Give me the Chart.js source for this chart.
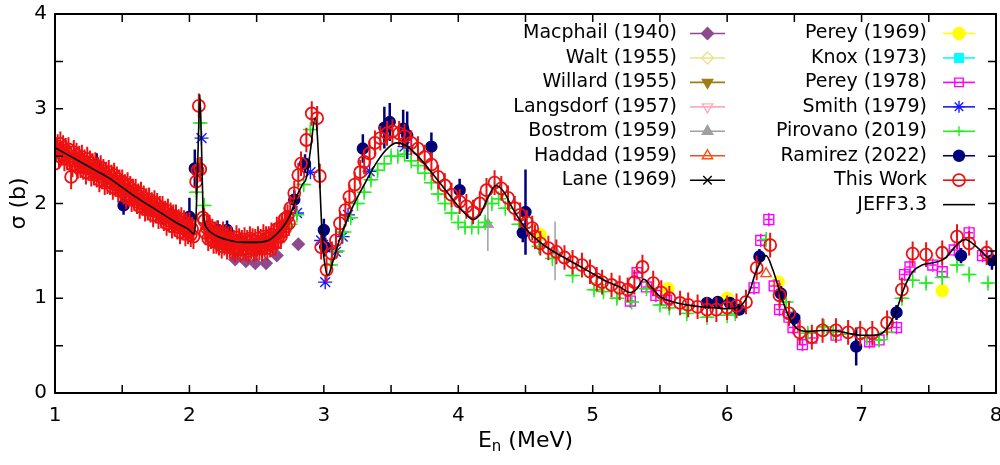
<!DOCTYPE html>
<html>
<head>
<meta charset="utf-8">
<script src="https://cdn.jsdelivr.net/npm/chart.js@4.4.1/dist/chart.umd.min.js"></script>
<style>
  html, body { margin: 0; padding: 0; background: #fff; }
</style>
</head>
<body>
<canvas id="c" width="1000" height="465"></canvas>
<script>
const FONT = "'DejaVu Sans', sans-serif";

// JEFF3.3 evaluated curve
let jeffX = [1.00, 1.10, 1.20, 1.30, 1.40, 1.50, 1.60, 1.70, 1.80, 1.90, 2.00, 2.03, 2.05, 2.065, 2.078, 2.09, 2.10, 2.11, 2.13,
  2.20, 2.30, 2.40, 2.50, 2.60, 2.65, 2.70, 2.75, 2.80, 2.84, 2.87, 2.90, 2.935, 2.95, 2.97, 2.99, 3.03, 3.07, 3.12,
  3.20, 3.30, 3.40, 3.48, 3.54, 3.60, 3.70, 3.80, 3.90, 4.00, 4.06, 4.11, 4.16, 4.22, 4.28, 4.34, 4.40, 4.50, 4.60,
  4.70, 4.80, 4.90, 5.00, 5.10, 5.20, 5.28, 5.33, 5.38, 5.43, 5.50, 5.60, 5.70, 5.80, 5.90, 6.00, 6.10, 6.16, 6.22,
  6.29, 6.34, 6.40, 6.46, 6.52, 6.60, 6.70, 6.80, 6.90, 7.00, 7.10, 7.17, 7.25, 7.32, 7.38, 7.45, 7.55, 7.62, 7.70,
  7.77, 7.85, 7.93, 8.00];
let jeffY = [2.59, 2.51, 2.43, 2.35, 2.27, 2.17, 2.07, 1.98, 1.89, 1.80, 1.72, 1.68, 1.90, 2.60, 3.15, 2.60, 2.00, 1.82, 1.74,
  1.66, 1.61, 1.59, 1.59, 1.62, 1.68, 1.76, 1.88, 2.08, 2.20, 2.27, 2.56, 2.90, 2.75, 2.20, 1.60, 1.245, 1.40, 1.63,
  1.92, 2.20, 2.45, 2.59, 2.64, 2.62, 2.50, 2.33, 2.15, 1.97, 1.88, 1.83, 1.88, 2.06, 2.19, 2.12, 1.96, 1.74, 1.60,
  1.50, 1.42, 1.34, 1.26, 1.18, 1.12, 1.06, 1.10, 1.20, 1.13, 1.02, 0.96, 0.93, 0.91, 0.90, 0.89, 0.92, 1.05, 1.30,
  1.45, 1.30, 1.03, 0.80, 0.68, 0.65, 0.66, 0.66, 0.63, 0.61, 0.61, 0.65, 0.84, 1.12, 1.28, 1.35, 1.38, 1.42, 1.55,
  1.62, 1.55, 1.44, 1.36];

// This Work
let workX = [1.00, 1.01, 1.02, 1.03, 1.04, 1.05, 1.06, 1.07, 1.08, 1.09,
  1.10, 1.11, 1.12, 1.13, 1.14, 1.15, 1.16, 1.17, 1.18, 1.19,
  1.20, 1.21, 1.22, 1.23, 1.24, 1.25, 1.26, 1.27, 1.28, 1.29,
  1.30, 1.31, 1.32, 1.33, 1.34, 1.35, 1.36, 1.37, 1.38, 1.39,
  1.40, 1.41, 1.42, 1.43, 1.44, 1.45, 1.46, 1.47, 1.48, 1.49,
  1.50, 1.51, 1.52, 1.53, 1.54, 1.55, 1.56, 1.57, 1.58, 1.59,
  1.60, 1.61, 1.62, 1.63, 1.64, 1.65, 1.66, 1.67, 1.68, 1.69,
  1.70, 1.71, 1.72, 1.73, 1.74, 1.75, 1.76, 1.77, 1.78, 1.79,
  1.80, 1.81, 1.82, 1.83, 1.84, 1.85, 1.86, 1.87, 1.88, 1.89,
  1.90, 1.91, 1.92, 1.93, 1.94, 1.95, 1.96, 1.97, 1.98, 1.99,
  2.00, 2.01, 2.02, 2.03, 2.05, 2.06, 2.07, 2.08, 2.10,
  2.11, 2.12, 2.13, 2.14, 2.15, 2.16, 2.17, 2.18, 2.19, 2.20,
  2.21, 2.22, 2.23, 2.24, 2.25, 2.26, 2.27, 2.28, 2.29, 2.30,
  2.31, 2.32, 2.33, 2.34, 2.35, 2.36, 2.37, 2.38, 2.39, 2.40,
  2.41, 2.42, 2.43, 2.44, 2.45, 2.46, 2.47, 2.48, 2.49, 2.50,
  2.51, 2.52, 2.53, 2.54, 2.55, 2.56, 2.57, 2.58, 2.59, 2.60,
  2.61, 2.62, 2.63, 2.64, 2.65, 2.66, 2.67, 2.68, 2.69, 2.70,
  2.71, 2.72, 2.73, 2.74, 2.75, 2.78, 2.81, 2.83, 2.87, 2.91, 2.95, 2.97,
  2.98, 3.02, 3.06, 3.09, 3.12, 3.16, 3.19, 3.23, 3.27, 3.30,
  3.34, 3.38, 3.42, 3.47, 3.51, 3.56, 3.60, 3.65, 3.70, 3.75,
  3.80, 3.85, 3.90, 3.95, 4.01, 4.06, 4.11, 4.16, 4.21, 4.27,
  4.32, 4.37, 4.42, 4.46, 4.51, 4.55, 4.57, 4.61, 4.67, 4.73,
  4.79, 4.85, 4.92, 4.98, 5.03, 5.07, 5.14, 5.20, 5.26, 5.31,
  5.37, 5.45, 5.51, 5.57, 5.65, 5.71, 5.78, 5.85, 5.92, 6.00,
  6.07, 6.14, 6.22, 6.32, 6.39, 6.46, 6.54, 6.63, 6.71, 6.81,
  6.90, 6.99, 7.08, 7.19, 7.30, 7.38, 7.48, 7.60, 7.71, 7.80, 7.93];
let workY = [2.42, 2.57, 2.60, 2.50, 2.63, 2.53, 2.59, 2.47, 2.56, 2.48,
  2.57, 2.46, 2.28, 2.41, 2.54, 2.45, 2.51, 2.39, 2.48, 2.40,
  2.49, 2.38, 2.44, 2.33, 2.47, 2.37, 2.43, 2.31, 2.40, 2.32,
  2.41, 2.30, 2.36, 2.25, 2.38, 2.28, 2.34, 2.22, 2.31, 2.23,
  2.33, 2.22, 2.28, 2.17, 2.30, 2.20, 2.26, 2.14, 2.23, 2.15,
  2.23, 2.12, 2.18, 2.07, 2.20, 2.10, 2.16, 2.04, 2.13, 2.05,
  2.13, 2.02, 2.08, 1.97, 2.10, 2.00, 2.06, 1.94, 2.03, 1.95,
  2.04, 1.93, 1.99, 1.88, 2.01, 1.92, 1.98, 1.86, 1.95, 1.87,
  1.95, 1.84, 1.90, 1.79, 1.92, 1.82, 1.88, 1.76, 1.86, 1.78,
  1.86, 1.75, 1.81, 1.70, 1.83, 1.74, 1.80, 1.68, 1.77, 1.70,
  1.78, 1.67, 1.73, 1.65, 2.23, 2.35, 3.03, 2.36, 1.85,
  1.82, 1.69, 1.74, 1.63, 1.75, 1.65, 1.71, 1.60, 1.68, 1.60,
  1.69, 1.58, 1.65, 1.55, 1.68, 1.58, 1.65, 1.54, 1.63, 1.55,
  1.63, 1.53, 1.59, 1.51, 1.64, 1.54, 1.61, 1.51, 1.59, 1.53,
  1.62, 1.52, 1.59, 1.50, 1.63, 1.54, 1.61, 1.51, 1.60, 1.53,
  1.63, 1.53, 1.60, 1.52, 1.65, 1.56, 1.63, 1.53, 1.63, 1.56,
  1.67, 1.58, 1.66, 1.58, 1.73, 1.65, 1.74, 1.65, 1.76, 1.71,
  1.84, 1.76, 1.86, 1.79, 1.95, 2.11, 2.30, 2.42, 2.67, 2.95, 2.90, 2.29,
  1.54, 1.30, 1.47, 1.61, 1.79, 1.93, 2.07, 2.20, 2.33, 2.44,
  2.53, 2.64, 2.69, 2.74, 2.76, 2.74, 2.71, 2.64, 2.58, 2.49,
  2.41, 2.28, 2.19, 2.09, 2.02, 1.97, 1.91, 2.00, 2.14, 2.22,
  2.16, 2.06, 1.95, 1.88, 1.80, 1.74, 1.65, 1.58, 1.53, 1.49,
  1.43, 1.38, 1.35, 1.28, 1.20, 1.17, 1.14, 1.11, 1.09, 1.17,
  1.33, 1.16, 1.06, 1.00, 0.95, 0.93, 0.91, 0.88, 0.88, 0.90,
  0.92, 0.96, 1.32, 1.56, 1.03, 0.84, 0.64, 0.59, 0.66, 0.66,
  0.64, 0.63, 0.63, 0.74, 1.09, 1.47, 1.46, 1.48, 1.65, 1.58, 1.48];
let workErr = 0.13;

// Ramirez (2022)
let ramX = [1.31, 1.51, 1.76, 1.80, 1.87, 2.00, 2.04, 2.21, 2.28, 2.38, 2.50, 2.78, 2.86, 3.00, 3.01,
  3.29, 3.45, 3.49, 3.59, 3.62, 3.80, 4.01, 4.48, 4.50, 5.85, 5.93, 6.02, 6.09, 6.24, 6.40, 6.50,
  6.96, 7.26, 7.74, 7.97];
let ramY = [2.40, 1.98, 1.93, 1.88, 1.86, 1.86, 2.37, 1.72, 1.72, 1.56, 1.54, 2.04, 2.42, 1.72, 1.54,
  2.58, 2.80, 2.86, 2.79, 2.72, 2.60, 2.14, 1.69, 1.91, 0.95, 0.96, 0.95, 0.88, 1.44, 1.05, 0.79,
  0.49, 0.85, 1.45, 1.40];
let ramErr = [0.13, 0.10, 0.10, 0.10, 0.10, 0.20, 0.20, 0.10, 0.10, 0.10, 0.10, 0.10, 0.10, 0.12, 0.10,
  0.15, 0.22, 0.20, 0.20, 0.25, 0.15, 0.12, 0.10, 0.45, 0.06, 0.06, 0.06, 0.06, 0.08, 0.08, 0.08,
  0.20, 0.08, 0.08, 0.10];

// Pirovano (2019)
let piroX = [2.05, 2.08, 2.11,
  2.20, 2.25, 2.30, 2.35, 2.40, 2.45, 2.50, 2.55, 2.60, 2.65, 2.70, 2.75, 2.80, 2.85, 2.90,
  3.05, 3.10, 3.15, 3.20, 3.25, 3.30, 3.35, 3.40, 3.45, 3.50, 3.55, 3.60, 3.65, 3.70, 3.75, 3.80,
  3.85, 3.90, 3.95, 4.00, 4.05, 4.10, 4.15, 4.20, 4.25, 4.30, 4.35,
  4.45, 4.60, 4.70, 4.85,
  5.01, 5.08, 5.18, 5.29, 5.40, 5.50, 5.57, 5.70, 5.85, 6.00, 6.06,
  6.29, 6.44, 6.49, 6.60, 6.72, 6.79, 6.90,
  7.04, 7.13, 7.19, 7.30, 7.38, 7.48, 7.60, 7.71, 7.80, 7.94];
let piroY = [2.12, 2.85, 1.98,
  1.60, 1.55, 1.52, 1.52, 1.53, 1.52, 1.55, 1.58, 1.63, 1.65, 1.70, 1.78, 1.88, 2.20, 2.78,
  1.35, 1.50, 1.70, 1.85, 2.00, 2.12, 2.25, 2.35, 2.42, 2.50, 2.50, 2.52, 2.45, 2.40, 2.32, 2.22,
  2.10, 2.00, 1.90, 1.80, 1.75, 1.75, 1.75, 1.80, 2.00, 2.05, 1.95,
  1.78, 1.55, 1.42, 1.24,
  1.09, 1.07, 1.00, 0.96, 1.10, 0.93, 0.90, 0.84, 0.80, 0.82, 0.84,
  1.62, 0.96, 0.82, 0.63, 0.70, 0.64, 0.62,
  0.58, 0.56, 0.64, 1.00, 1.19, 1.16, 1.22, 1.35, 1.25, 1.16];
let piroXErr = 0.055;
let piroYErr = 0.08;

// Perey (1978)
let pe78X = [5.28, 5.33, 5.40, 5.47, 5.55, 6.20, 6.25, 6.31, 6.35, 6.39, 6.46, 6.49, 6.56, 6.63, 6.81,
  7.06, 7.13, 7.26, 7.32, 7.36, 7.53, 7.60, 7.69, 7.80, 7.90];
let pe78Y = [0.97, 1.27, 1.12, 1.03, 0.98, 1.11, 1.61, 1.83, 1.13, 0.88, 0.80, 0.69, 0.51, 0.58, 0.61,
  0.54, 0.56, 0.69, 1.25, 1.33, 1.35, 1.28, 1.51, 1.69, 1.45];
let pe78Err = 0.07;

// Smith (1979)
let smithX = [2.09, 2.43, 2.72, 2.80, 2.90, 2.98, 3.01, 3.09, 3.14, 3.18, 3.34, 3.60];
let smithY = [2.69, 1.58, 1.75, 1.90, 2.33, 1.61, 1.17, 1.49, 1.65, 1.88, 2.34, 2.60];

// Perey (1969)
let pe69X = [4.61, 5.56, 6.00, 6.38, 7.60];
let pe69Y = [1.67, 1.10, 1.00, 1.17, 1.08];

// Macphail (1940)
let macX = [2.34, 2.42, 2.49, 2.57, 2.65, 2.81];
let macY = [1.41, 1.39, 1.37, 1.37, 1.45, 1.57];

// Bostrom (1959)
let bosX = [4.22, 4.72];
let bosY = [1.78, 1.50];
let bosErr = [0.28, 0.31];

// Haddad (1959)
let hadX = [6.29];
let hadY = [1.26];

function pts(xs, ys) {
  return xs.map((x, i) => ({ x: x, y: ys[i] }));
}

// later entries are drawn on top (gnuplot order)
let series = [
  { label: "Macphail (1940)", color: "#8e4a8e", style: "rectRot", r: 6, fill: true, data: pts(macX, macY) },
  { label: "Walt (1955)", color: "#eee08a", style: "rectRot", r: 6, fill: false, data: [] },
  { label: "Willard (1955)", color: "#a07c12", style: "triangle", rot: 180, r: 6, fill: true, data: [] },
  { label: "Langsdorf (1957)", color: "#ffaabb", style: "triangle", rot: 180, r: 6, fill: false, data: [] },
  { label: "Bostrom (1959)", color: "#a0a0a0", style: "triangle", r: 6, fill: true, data: pts(bosX, bosY), yErr: bosErr },
  { label: "Haddad (1959)", color: "#ff4a10", style: "triangle", r: 6, fill: false, data: pts(hadX, hadY) },
  { label: "Lane (1969)", color: "#000000", style: "crossRot", r: 6, fill: false, data: [] },
  { label: "Perey (1969)", color: "#ffff00", style: "circle", r: 6, fill: true, data: pts(pe69X, pe69Y) },
  { label: "Knox (1973)", color: "#00ffff", style: "rect", r: 7, fill: true, data: [] },
  { label: "Perey (1978)", color: "#ff00ff", style: "rect", r: 7, fill: false, data: pts(pe78X, pe78Y), yErr: pe78Err, xErr: 0.03 },
  { label: "Smith (1979)", color: "#1a1aff", style: "star", r: 7, fill: false, data: pts(smithX, smithY) },
  { label: "Pirovano (2019)", color: "#22ee22", style: "cross", r: 5, fill: false, data: pts(piroX, piroY), yErr: piroYErr, xErr: piroXErr },
  { label: "Ramirez (2022)", color: "#00007a", style: "circle", r: 5.5, fill: true, data: pts(ramX, ramY), yErr: ramErr, errW: 2.5 },
  { label: "This Work", color: "#ee1111", style: "circle", r: 6, fill: false, bw: 1.8, data: pts(workX, workY), yErr: workErr, errW: 2 },
  { label: "JEFF3.3", color: "#000000", line: true, data: pts(jeffX, jeffY) }
];

let datasets = series.map((s, i) => ({
  label: s.label,
  data: s.data,
  order: series.length - i,
  showLine: !!s.line,
  cubicInterpolationMode: 'monotone',
  borderColor: s.color,
  backgroundColor: s.fill ? s.color : 'rgba(0,0,0,0)',
  borderWidth: s.line ? 1.6 : 1.4,
  pointStyle: s.style || 'circle',
  pointRotation: s.rot || 0,
  pointRadius: s.line ? 0 : s.r,
  pointBorderWidth: s.bw || 1.4,
  yErr: s.yErr,
  xErr: s.xErr,
  errW: s.errW || 1.5
}));

function errAt(e, i) {
  return Array.isArray(e) ? e[i] : e;
}

const errorBars = {
  id: 'errorBars',
  beforeDatasetDraw(chart, args) {
    const ds = chart.data.datasets[args.index];
    if (ds.yErr == null && ds.xErr == null) return;
    const { ctx, chartArea: a, scales: { x, y } } = chart;
    ctx.save();
    ctx.beginPath();
    ctx.rect(a.left, a.top, a.right - a.left, a.bottom - a.top);
    ctx.clip();
    ctx.strokeStyle = ds.borderColor;
    ctx.lineWidth = ds.errW;
    ctx.beginPath();
    ds.data.forEach((p, i) => {
      const px = x.getPixelForValue(p.x);
      const py = y.getPixelForValue(p.y);
      if (ds.yErr != null) {
        const e = errAt(ds.yErr, i);
        ctx.moveTo(px, y.getPixelForValue(p.y - e));
        ctx.lineTo(px, y.getPixelForValue(p.y + e));
      }
      if (ds.xErr != null) {
        const e = errAt(ds.xErr, i);
        ctx.moveTo(x.getPixelForValue(p.x - e), py);
        ctx.lineTo(x.getPixelForValue(p.x + e), py);
      }
    });
    ctx.stroke();
    ctx.restore();
  }
};

// gnuplot style frame with inward ticks every 0.5
const frame = {
  id: 'frame',
  afterDraw(chart) {
    const { ctx, chartArea: a, scales: { x, y } } = chart;
    const len = 8;
    ctx.save();
    ctx.strokeStyle = '#000';
    ctx.lineWidth = 1.5;
    ctx.beginPath();
    for (let v = x.min; v <= x.max + 1e-9; v += 0.5) {
      const px = x.getPixelForValue(v);
      ctx.moveTo(px, a.bottom); ctx.lineTo(px, a.bottom - len);
      ctx.moveTo(px, a.top); ctx.lineTo(px, a.top + len);
    }
    for (let v = y.min; v <= y.max + 1e-9; v += 0.5) {
      const py = y.getPixelForValue(v);
      ctx.moveTo(a.left, py); ctx.lineTo(a.left + len, py);
      ctx.moveTo(a.right, py); ctx.lineTo(a.right - len, py);
    }
    ctx.stroke();
    ctx.lineWidth = 2;
    ctx.strokeRect(a.left, a.top, a.right - a.left, a.bottom - a.top);

    // axis titles
    ctx.fillStyle = '#000';
    ctx.font = '22px ' + FONT;
    ctx.textBaseline = 'middle';
    ctx.save();
    ctx.translate(19, (a.top + a.bottom) / 2);
    ctx.rotate(-Math.PI / 2);
    ctx.textAlign = 'center';
    ctx.fillText('σ (b)', 0, 0);
    ctx.restore();

    const cx = (a.left + a.right) / 2;
    const ty = 441;
    const wE = ctx.measureText('E').width;
    ctx.font = '15px ' + FONT;
    const wn = ctx.measureText('n').width;
    ctx.font = '22px ' + FONT;
    const wRest = ctx.measureText(' (MeV)').width;
    let sx = cx - (wE + wn + wRest) / 2;
    ctx.textAlign = 'left';
    ctx.fillText('E', sx, ty);
    ctx.font = '15px ' + FONT;
    ctx.fillText('n', sx + wE, ty + 6);
    ctx.font = '22px ' + FONT;
    ctx.fillText(' (MeV)', sx + wE + wn, ty);
    ctx.restore();
  }
};

// two-column key, text right aligned, sample to the right
const key = {
  id: 'key',
  afterDatasetsDraw(chart) {
    const { ctx } = chart;
    const cols = [
      { textRight: 677, lineL: 690, lineR: 725, items: [0, 1, 2, 3, 4, 5, 6] },
      { textRight: 927, lineL: 943, lineR: 975, items: [7, 8, 9, 10, 11, 12, 13, 14] }
    ];
    const top = 33.5, step = 24.45;
    ctx.save();
    ctx.font = '19px ' + FONT;
    ctx.textAlign = 'right';
    ctx.textBaseline = 'middle';
    cols.forEach(col => {
      col.items.forEach((idx, row) => {
        const ds = chart.data.datasets[idx];
        const yy = top + row * step;
        ctx.fillStyle = '#000';
        ctx.fillText(ds.label, col.textRight, yy);
        ctx.strokeStyle = ds.borderColor;
        ctx.lineWidth = 1.6;
        ctx.beginPath();
        ctx.moveTo(col.lineL, yy);
        ctx.lineTo(col.lineR, yy);
        ctx.stroke();
        if (ds.pointRadius > 0) {
          ctx.fillStyle = ds.backgroundColor;
          ctx.lineWidth = ds.pointBorderWidth;
          Chart.helpers.drawPoint(ctx, {
            pointStyle: ds.pointStyle,
            radius: Math.min(ds.pointRadius, 6),
            rotation: ds.pointRotation,
            borderWidth: ds.pointBorderWidth
          }, (col.lineL + col.lineR) / 2, yy);
        }
      });
    });
    ctx.restore();
  }
};

const tickFont = { family: FONT, size: 20 };

new Chart(document.getElementById('c'), {
  type: 'scatter',
  data: { datasets: datasets },
  options: {
    responsive: false,
    animation: false,
    devicePixelRatio: 1,
    layout: { autoPadding: false, padding: { top: 14, right: 4, left: 0, bottom: 0 } },
    plugins: { legend: { display: false }, tooltip: { enabled: false } },
    scales: {
      x: {
        type: 'linear', min: 1, max: 8,
        afterFit: s => { s.height = 72; s.paddingLeft = 0; s.paddingRight = 0; },
        grid: { display: false, drawTicks: false },
        border: { display: false },
        ticks: { stepSize: 1, padding: 11, color: '#000', font: tickFont, maxRotation: 0 }
      },
      y: {
        type: 'linear', min: 0, max: 4,
        afterFit: s => { s.width = 55; s.paddingTop = 0; s.paddingBottom = 0; },
        grid: { display: false, drawTicks: false },
        border: { display: false },
        ticks: { stepSize: 1, padding: 8, color: '#000', font: tickFont }
      }
    }
  },
  plugins: [errorBars, frame, key]
});
</script>
</body>
</html>
